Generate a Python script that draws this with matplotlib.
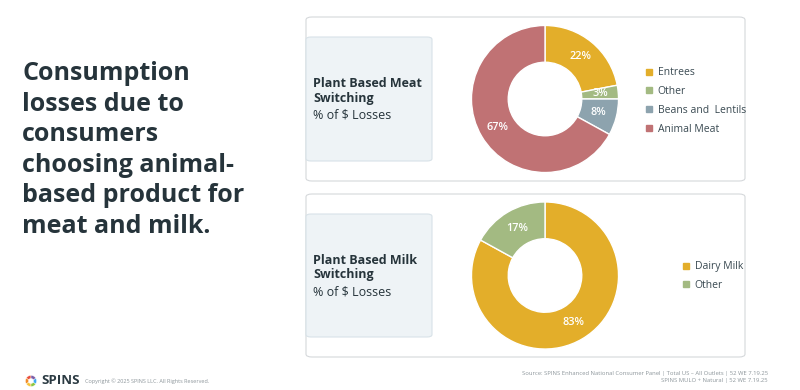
import matplotlib
matplotlib.use("Agg")
import matplotlib.pyplot as plt
from matplotlib.patches import FancyBboxPatch
from matplotlib.lines import Line2D

plt.rcParams['font.family'] = ['Open Sans', 'DejaVu Sans']

# ---- data ----
meat_labels = ["Entrees", "Other", "Beans and  Lentils", "Animal Meat"]
meat_values = [22, 3, 8, 67]
meat_colors = ["#E3AE2A", "#A3BA82", "#8DA3AE", "#C07274"]

milk_labels = ["Dairy Milk", "Other"]
milk_values = [83, 17]
milk_colors = ["#E3AE2A", "#A3BA82"]

title_text = "Consumption\nlosses due to\nconsumers\nchoosing animal-\nbased product for\nmeat and milk."
meat_title = "Plant Based Meat\nSwitching"
milk_title = "Plant Based Milk\nSwitching"
subtitle = "% of $ Losses"
source_text = "Source: SPINS Enhanced National Consumer Panel | Total US – All Outlets | 52 WE 7.19.25\nSPINS MULO + Natural | 52 WE 7.19.25"
copyright_text = "Copyright © 2025 SPINS LLC. All Rights Reserved."
logo_parts = [1, 1, 1, 1, 1, 1]
logo_colors = ["#E94E3C", "#F28C28", "#F7C23A", "#8CC63F", "#3FA9F5", "#7A5BA6"]

W, H = 800, 390
fig = plt.figure(figsize=(8, 3.9), dpi=100)
fig.patch.set_facecolor("white")

def fx(x):
    return x / W

def fy(y):
    return 1 - y / H

def card(x0, y0, x1, y1, fc, ec, r=5):
    p = FancyBboxPatch((fx(x0), fy(y1)), fx(x1 - x0), (y1 - y0) / H,
                       boxstyle=f"round,pad=0,rounding_size={r/W}",
                       transform=fig.transFigure, fc=fc, ec=ec, lw=0.8,
                       zorder=1)
    fig.add_artist(p)

dark = "#26343B"

# Title
fig.text(fx(22), fy(61), title_text, fontsize=18, fontweight="bold",
         color=dark, va="top", ha="left", linespacing=1.29)

def panel(y0, y1, labels, values, colors, ttl, legend_x, legend_y0, pct_dist):
    card(306, y0, 745, y1, "white", "#D5D8DB", r=6)
    card(306, y0 + 20, 432, y1 - 20, "#EEF3F6", "#D8E2E8", r=5)
    cy = (y0 + y1) / 2
    fig.text(fx(313), fy(cy - 8), ttl, fontsize=9, fontweight="bold",
             color=dark, va="center", ha="left", linespacing=1.15, zorder=3)
    fig.text(fx(313), fy(cy + 16), subtitle, fontsize=9, color=dark,
             va="center", ha="left", zorder=3)
    # donut
    r = 75
    ax = fig.add_axes([fx(545 - r), fy(cy + r), 2 * r / W, 2 * r / H])
    ax.set_zorder(5)
    ax.patch.set_visible(False)
    wedges, texts, autotexts = ax.pie(
        values, colors=colors, startangle=90, counterclock=False,
        radius=1, wedgeprops=dict(width=0.5, edgecolor="white", linewidth=1),
        autopct=lambda p: f"{p:.0f}%", pctdistance=pct_dist,
        textprops=dict(color="white", fontsize=7.8, fontweight="semibold"))
    ax.set_aspect("equal")
    ax.set_xlim(-1.02, 1.02)
    ax.set_ylim(-1.02, 1.02)
    ax.axis("off")
    # legend
    handles = [Line2D([0], [0], marker="s", color="none", markerfacecolor=c,
                      markeredgecolor=c, markersize=5) for c in colors]
    leg = fig.legend(handles, labels, loc="upper left",
                     bbox_to_anchor=(fx(legend_x), fy(legend_y0)), frameon=False,
                     fontsize=7.5, handlelength=0.6, handletextpad=0.5,
                     labelspacing=0.75, labelcolor="#3A4A52", borderaxespad=0)
    leg.set_zorder(6)

panel(17, 181, meat_labels, meat_values, meat_colors, meat_title, 642, 63, 0.75)
panel(194, 357, milk_labels, milk_values, milk_colors, milk_title, 679, 257, 0.75)

# footer logo
lr = 7
lax = fig.add_axes([fx(31 - lr), fy(381 + lr), 2 * lr / W, 2 * lr / H])
lax.pie(logo_parts, colors=logo_colors, startangle=90,
        wedgeprops=dict(width=0.55, edgecolor="white", linewidth=0.3))
lax.set_aspect("equal")
lax.axis("off")
fig.text(fx(41), fy(381), "SPINS", fontsize=9.5, fontweight="bold",
         color="#2B3A42", va="center", ha="left")
fig.text(fx(85), fy(381.5), copyright_text, fontsize=4, color="#8C959A",
         va="center", ha="left")
fig.text(fx(768), fy(377), source_text, fontsize=4.2, color="#8C959A",
         va="center", ha="right", multialignment="right", linespacing=1.45)

fig.savefig("out.png", dpi=100, facecolor="white")
